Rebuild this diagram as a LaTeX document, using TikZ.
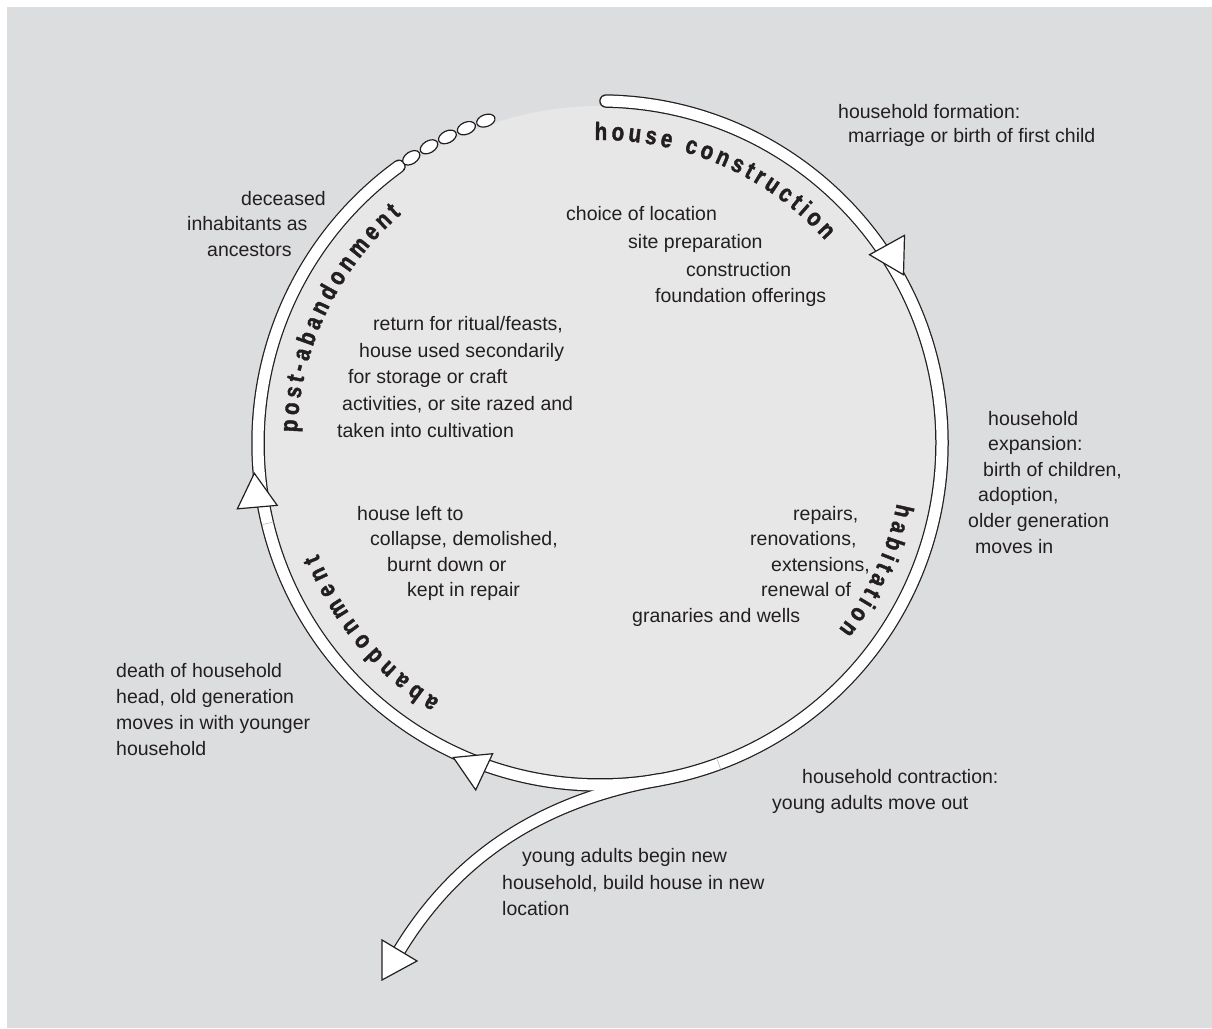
\documentclass[tikz,border=0pt]{standalone}
\usepackage{fontspec}
\setmainfont{Liberation Sans}
\newfontfamily\lblfamily[FakeStretch=0.82,FakeBold=1.6]{Liberation Sans}
\usetikzlibrary{decorations.text}
\definecolor{bggray}{RGB}{220,221,223}
\definecolor{ingray}{RGB}{231,231,232}
\definecolor{ink}{RGB}{35,31,32}
\definecolor{tickgray}{RGB}{185,185,185}
\newcommand{\lblfont}{\lblfamily\bfseries\fontsize{25}{25}\selectfont}
\tikzset{
  note/.style={anchor=base west, inner sep=0pt, text=ink, font=\fontsize{19.5}{24}\selectfont},
  ringline/.style={line width=13.5pt, draw=ink},
  ringfill/.style={line width=11pt, draw=white},
  arrowhd/.style={fill=white, draw=ink, line width=1.2pt, line join=miter},
  dotbead/.style={fill=white, draw=ink, line width=1.2pt},
  ringtick/.style={draw=tickgray, line width=0.6pt},
  phase/.style={decorate, decoration={text along path, text align=fit to path, text color=ink}}
}
\begin{document}
\begin{tikzpicture}[x=1pt,y=1pt]
\useasboundingbox (0,0) rectangle (1212,1028);
\fill[white] (0,0) rectangle (1212,1028);
\fill[bggray] (7,0) rectangle (1212,1021);
\begin{scope}[shift={(600,585)}]
  \fill[ingray] (0,0) circle[radius=337];
  % ring and tail: black first, then white on top
  \draw[ringline] (-80:342) .. controls (-59,-358) and (-144,-414) .. (-201,-508);
  \draw[ringline, line cap=round] (89:342) arc[start angle=89, end angle=-234, radius=342];
  \draw[ringfill] (-80:342) .. controls (-59,-358) and (-144,-414) .. (-201,-508);
  \draw[ringfill, line cap=round] (89:342) arc[start angle=89, end angle=-234, radius=342];
  \draw[ringtick] (193.6:336) -- (193.6:348);
  \draw[ringtick] (-69.7:336) -- (-69.7:348);
  \foreach \a in {123.5,120,116.5,113,109.5}
    \draw[dotbead] (\a:342) circle[x radius=9.5, y radius=6, rotate=\a+90];
  \foreach \a in {29,185,245}{
    \begin{scope}[shift={(\a:347)}, rotate=\a-90]
      \draw[arrowhd] (0,0) -- (-34,20) -- (-34,-20) -- cycle;
    \end{scope}
  }
  \draw[arrowhd] (-218,-497) -- (-218,-537) -- (-183,-518) -- cycle;
  \path[phase, decoration={text={|\lblfont|house construction}}] (91:303) arc[start angle=91, end angle=42, radius=303];
  \path[phase, decoration={text={|\lblfont|habitation}}] (-11.5:303) arc[start angle=-11.5, end angle=-38, radius=303];
  \path[phase, decoration={text={|\lblfont|abandonment}}] (-122:303) arc[start angle=-122, end angle=-158.5, radius=303];
  \path[phase, decoration={text={|\lblfont|post-abandonment}}] (178:303) arc[start angle=178, end angle=131, radius=303];
\end{scope}

\node[note] (hf1) at (838,909) {household formation:};
\node[note] (hf2) at (848,885) {marriage or birth of first child};

\node[note] (dc1) at (241,822) {deceased};
\node[note] (dc2) at (187,797) {inhabitants as};
\node[note] (dc3) at (207,771) {ancestors};

\node[note] (cl1) at (566,807) {choice of location};
\node[note] (cl2) at (628,779) {site preparation};
\node[note] (cl3) at (686,751) {construction};
\node[note] (cl4) at (655,725) {foundation offerings};

\node[note] (pa1) at (373,697) {return for ritual/feasts,};
\node[note] (pa2) at (359,670) {house used secondarily};
\node[note] (pa3) at (348,644) {for storage or craft};
\node[note] (pa4) at (342,617) {activities, or site razed and};
\node[note] (pa5) at (337,590) {taken into cultivation};

\node[note] (he1) at (988,602) {household};
\node[note] (he2) at (988,577) {expansion:};
\node[note] (he3) at (983,551) {birth of children,};
\node[note] (he4) at (978,526) {adoption,};
\node[note] (he5) at (968,500) {older generation};
\node[note] (he6) at (975,474) {moves in};

\node[note] (rp1) at (793,507) {repairs,};
\node[note] (rp2) at (750,482) {renovations,};
\node[note] (rp3) at (771,456) {extensions,};
\node[note] (rp4) at (761,431) {renewal of};
\node[note] (rp5) at (632,405) {granaries and wells};

\node[note] (hl1) at (357,507) {house left to};
\node[note] (hl2) at (370,482) {collapse, demolished,};
\node[note] (hl3) at (387,456) {burnt down or};
\node[note] (hl4) at (407,431) {kept in repair};

\node[note] (dh1) at (116,350) {death of household};
\node[note] (dh2) at (116,324) {head, old generation};
\node[note] (dh3) at (116,298) {moves in with younger};
\node[note] (dh4) at (116,272) {household};

\node[note] (hc1) at (802,244) {household contraction:};
\node[note] (hc2) at (772,218) {young adults move out};

\node[note] (ya1) at (522,165) {young adults begin new};
\node[note] (ya2) at (502,139) {household, build house in new};
\node[note] (ya3) at (502,113) {location};
\end{tikzpicture}
\end{document}
